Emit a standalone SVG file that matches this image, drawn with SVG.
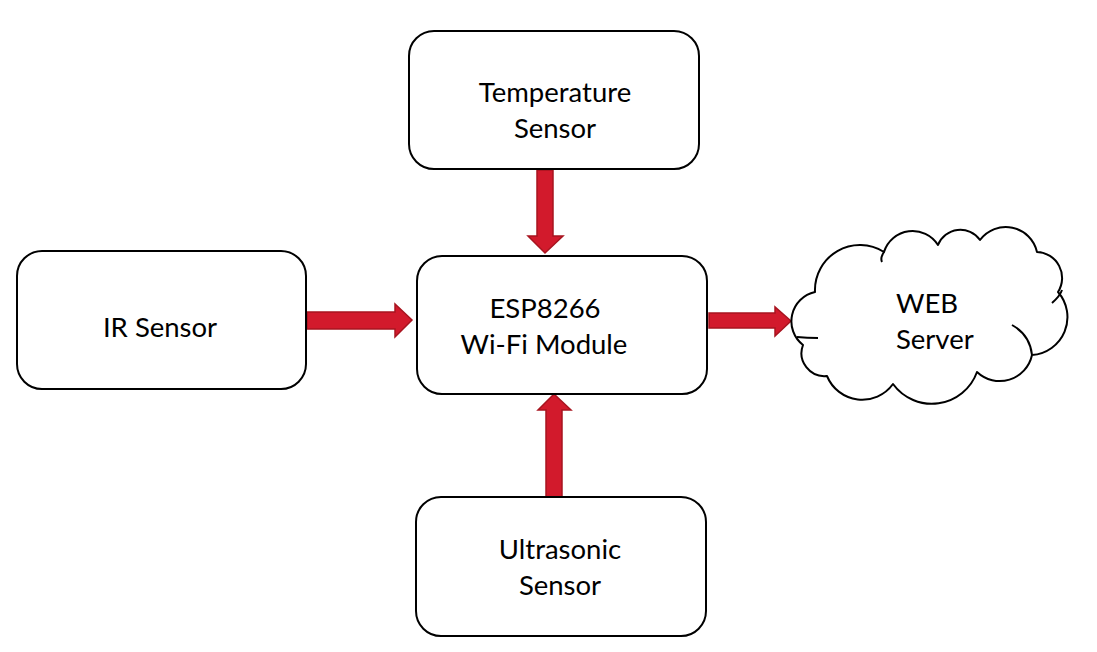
<svg xmlns="http://www.w3.org/2000/svg" width="1097" height="652" viewBox="0 0 1097 652">
<style>
.box{fill:#fff;stroke:#000;stroke-width:2}
.lbl{font-family:Lato,"Open Sans","Liberation Sans",sans-serif;font-size:27.5px;fill:#000;text-anchor:middle}
.arr{fill:#D21A2C;stroke:#A8141F;stroke-width:1.5;stroke-linejoin:miter}
.cl{fill:#fff;stroke:#000;stroke-width:2;stroke-linejoin:round}
.ci{fill:none;stroke:#000;stroke-width:2}
</style>
<rect width="1097" height="652" fill="#fff"/>
<g id="connectors">
<path class="arr" d="M537 170 H553 V236 H563 L545 253 L528 236 H537 Z"/>
<path class="arr" d="M307 312 H395 V304 L412 320 L395 337 V329 H307 Z"/>
<path class="arr" d="M546 497 V410 H538 L554 394 L571 410 H562 V497 Z"/>
<path class="arr" d="M709 313 H775 V307 L791 321 L775 336 V328 H709 Z"/>
</g>
<g id="temperature">
<rect class="box" x="409" y="31" width="290" height="138" rx="25"/>
<text class="lbl" x="555" y="102">Temperature</text>
<text class="lbl" x="555" y="138">Sensor</text>
</g>
<g id="ir">
<rect class="box" x="17" y="251" width="289" height="138" rx="25"/>
<text class="lbl" x="160" y="337">IR Sensor</text>
</g>
<g id="esp">
<rect class="box" x="417" y="256" width="290" height="138" rx="25"/>
<text class="lbl" x="545" y="318">ESP8266</text>
<text class="lbl" x="544" y="354">Wi-Fi Module</text>
</g>
<g id="ultrasonic">
<rect class="box" x="416" y="497" width="290" height="139" rx="25"/>
<text class="lbl" x="560" y="559">Ultrasonic</text>
<text class="lbl" x="560" y="595">Sensor</text>
</g>
<g id="web">
<path class="cl" d="M803 345 A30 30 0 0 1 815 292 A45 45 0 0 1 884 252 A30 30 0 0 1 938 245 A24 24 0 0 1 980 240 A32 32 0 0 1 1037 252 A26 26 0 0 1 1058 292 A38 38 0 0 1 1032 355 A33 33 0 0 1 977 372 A48 48 0 0 1 893 384 A38 38 0 0 1 827 376 A23 23 0 0 1 803 345 Z"/>
<path class="ci" d="M797 337 Q807 338 818 338"/>
<path class="ci" d="M1062 290 Q1060 296 1052 303"/>
<path class="ci" d="M1012 325 Q1030 335 1032 355"/>
<path class="ci" d="M884 252 Q880 258 882 262"/>
<text class="lbl" x="896" y="313" style="text-anchor:start">WEB</text>
<text class="lbl" x="896" y="349" style="text-anchor:start">Server</text>
</g>
</svg>
